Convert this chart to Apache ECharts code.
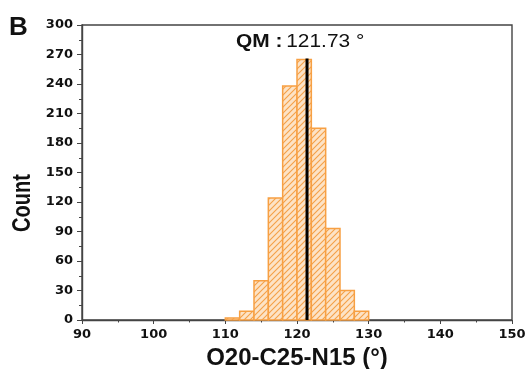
<!DOCTYPE html>
<html><head><meta charset="utf-8">
<script src="https://cdn.jsdelivr.net/npm/echarts@6/dist/echarts.min.js"></script>
<style>html,body{margin:0;padding:0;background:#fff}#c{width:532px;height:369px}</style>
</head><body><div id="c"></div>
<script>
const binStarts = [110,112,114,116,118,120,122,124,126,128];
const binWidth = 2;
const counts = [2,9,40,124,238,265,195,93,30,9];
const qmPos = 121.4;
const qmTop = 266;
const qmLabel = '121.73 °';
const yTicks = [0,30,60,90,120,150,180,210,240,270,300];
const xTicks = [90,100,110,120,130,140,150];

const pc = document.createElement('canvas');
pc.width = 6; pc.height = 6;
const g = pc.getContext('2d');
g.fillStyle = '#fde3c6'; g.fillRect(0,0,6,6);
g.strokeStyle = '#f5a047'; g.lineWidth = 1.1;
g.beginPath();
g.moveTo(-1,7); g.lineTo(7,-1);
g.moveTo(-4,4); g.lineTo(4,-4);
g.moveTo(2,10); g.lineTo(10,2);
g.stroke();

const histData = binStarts.map((s,i)=>[s, s+binWidth, counts[i]]);

const chart = echarts.init(document.getElementById('c'));
const lab = {fontFamily:'DejaVu Sans', fontWeight:'bold', color:'#111'};
const AF = 'Liberation Sans, Arial, sans-serif';
chart.setOption({
  animation:false,
  grid:{left:82,right:20,top:25,bottom:49,outerBoundsMode:'none',containLabel:false,
    show:true,borderColor:'#444',borderWidth:1.4,backgroundColor:'transparent'},
  xAxis:{type:'value',min:xTicks[0],max:xTicks[xTicks.length-1],interval:10,
    name:'O20-C25-N15 (°)',nameLocation:'middle',nameGap:24,
    nameTextStyle:{fontFamily:AF,fontWeight:'bold',fontSize:24,color:'#111'},
    axisLine:{show:true,lineStyle:{color:'#444',width:1.4}},
    axisTick:{show:true,length:4,lineStyle:{color:'#444'}},
    minorTick:{show:true,splitNumber:2,length:2.5,lineStyle:{color:'#444'}},
    splitLine:{show:false},
    axisLabel:Object.assign({fontSize:13,margin:8},lab)},
  yAxis:{type:'value',min:0,max:300,interval:30,
    axisLine:{show:true,lineStyle:{color:'#444',width:1.4}},
    axisTick:{show:true,length:5,lineStyle:{color:'#444'}},
    minorTick:{show:true,splitNumber:2,length:3,lineStyle:{color:'#444'}},
    splitLine:{show:false},
    axisLabel:Object.assign({fontSize:13,margin:9},lab)},
  graphic:[
    {type:'text',x:9,y:15,style:{text:'B',font:'bold 26px '+AF,fill:'#111'}},
    {type:'text',x:23,y:203,rotation:Math.PI/2,scaleY:1.3,
     style:{text:'Count',font:'bold 20px '+AF,fill:'#111',align:'center',verticalAlign:'middle'}},
    {type:'text',x:236,y:33,scaleX:1.16,
     style:{rich:{a:{font:'bold 18px '+AF,fill:'#111'},b:{font:'18px '+AF,fill:'#111'}},text:'{a|QM :} {b|'+qmLabel+'}'}}
  ],
  series:[
    {type:'custom',
     renderItem:function(params,api){
       const p0 = api.coord([api.value(0),0]);
       const p1 = api.coord([api.value(1),api.value(2)]);
       return {type:'rect',shape:{x:p0[0],y:p1[1],width:p1[0]-p0[0],height:p0[1]-p1[1]},
         style:{fill:{image:pc,repeat:'repeat'},stroke:'#f7a043',lineWidth:1.5}};
     },
     encode:{x:[0,1],y:2},
     data:histData,z:2},
    {type:'line',data:[[qmPos,0],[qmPos,qmTop]],symbol:'none',
     lineStyle:{color:'#000',width:3},z:5}
  ]
});
</script></body></html>
